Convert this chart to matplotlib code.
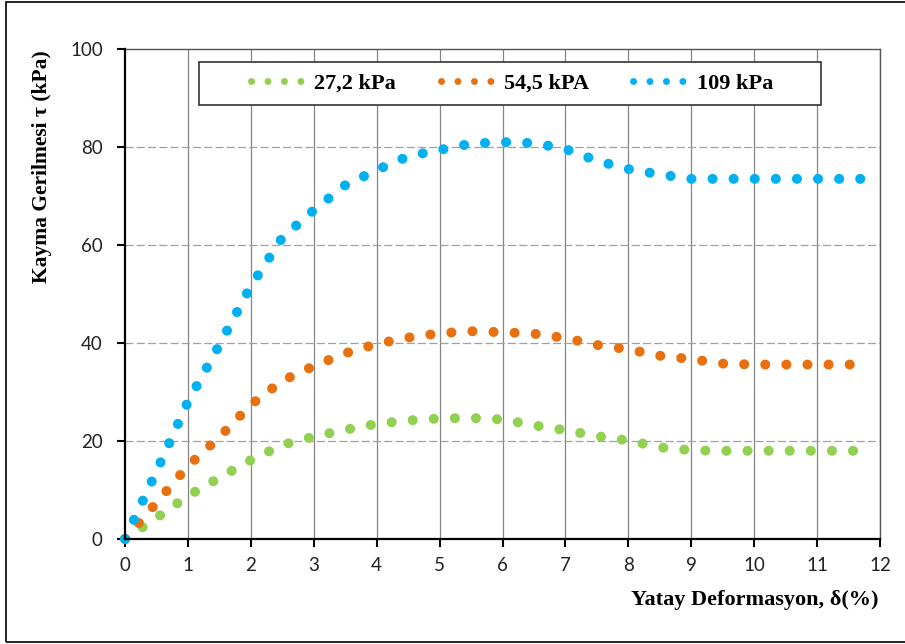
import matplotlib
matplotlib.use("Agg")
import matplotlib.pyplot as plt
from matplotlib.lines import Line2D
from matplotlib.patches import Rectangle

# ---- data ----
deformation = [0, 0.5, 1, 1.5, 2, 2.5, 3, 3.5, 4, 4.5, 5, 5.5, 6, 6.5, 7,
               7.5, 8, 8.5, 9, 9.5, 10, 10.5, 11, 11.5, 11.85]
tau_27 = [0, 4.3, 8.8, 12.5, 16.1, 19.2, 20.9, 22.3, 23.5, 24.2, 24.6, 24.7,
          24.4, 23.2, 22.2, 21.0, 20.1, 18.7, 18.1, 18.0, 18.0, 18.0, 18.0, 18.0, 18.0]
tau_54 = [0, 7.4, 14.9, 20.8, 27.4, 32.3, 35.3, 37.9, 39.8, 41.1, 42.0, 42.4,
          42.2, 41.9, 41.0, 39.6, 38.7, 37.4, 36.7, 35.8, 35.6, 35.6, 35.6, 35.6, 35.6]
tau_109 = [0, 13.8, 28.0, 39.6, 51.6, 61.5, 67.1, 72.2, 75.3, 78.1, 79.4, 80.7,
           81.0, 80.8, 79.6, 77.2, 75.5, 74.4, 73.5, 73.5, 73.5, 73.5, 73.5, 73.5, 73.5]
series_labels = ["27,2 kPa", "54,5 kPA", "109 kPa"]
series_colors = ["#92D050", "#E8700F", "#00B0F0"]
x_ticks = list(range(0, 13))
y_ticks = [0, 20, 40, 60, 80, 100]

serif_bold = dict(family="Liberation Serif", weight="bold")
tick_font = "Lato"

fig = plt.figure(figsize=(9.05, 6.44), dpi=100)
W, H = 905, 644
ax = fig.add_axes([125 / W, 105 / H, 755 / W, 490 / H])

# grid
for xv in x_ticks[1:]:
    ax.axvline(xv, color="#858585", lw=0.9, zorder=1)
for yv in y_ticks[1:-1]:
    ax.axhline(yv, color="#A0A0A0", lw=0.9, linestyle=(0, (6.5, 2.5)), zorder=1)

for yvals, lab, col in zip([tau_27, tau_54, tau_109], series_labels, series_colors):
    ax.plot(deformation, yvals, color=col, lw=7.2, linestyle=(0, (0.01, 2.1)),
            dash_capstyle="round", zorder=3, clip_on=False)

ax.set_xlim(0, 12)
ax.set_ylim(0, 100)
ax.set_xticks(x_ticks)
ax.set_yticks(y_ticks)
ax.tick_params(axis="both", direction="out", length=6, width=1.5, color="black",
               labelsize=13.5, labelcolor="#222222")
ax.tick_params(axis="y", pad=10)
ax.tick_params(axis="x", pad=7)
for t in ax.get_xticklabels() + ax.get_yticklabels():
    t.set_fontfamily(tick_font)

for s in ["left", "bottom"]:
    ax.spines[s].set_linewidth(1.6)
    ax.spines[s].set_color("black")
    ax.spines[s].set_zorder(4)
for s in ["top", "right"]:
    ax.spines[s].set_linewidth(1.0)
    ax.spines[s].set_color("#555555")

# axis labels
fig.text(42 / W, 1 - 167 / H, "Kayma Gerilmesi \u03c4 (kPa)", rotation=90,
         ha="center", va="center", fontsize=15.5, **serif_bold)
fig.text(878 / W, 1 - 600 / H, "Yatay Deformasyon, \u03b4(%)", ha="right",
         va="center", fontsize=16, **serif_bold)

# legend
box = Rectangle((199 / W, 1 - 105 / H), 622 / W, 43 / H,
                transform=fig.transFigure, fill=True, facecolor="white",
                edgecolor="#333333", lw=1.2, zorder=6, clip_on=False)
ax.add_patch(box)
handles = [Line2D([], [], color=c, lw=5.0, linestyle=(0, (0.01, 2.36)),
                  dash_capstyle="round") for c in series_colors]
leg = ax.legend(handles, series_labels, loc="center", ncol=3,
                bbox_to_anchor=(512 / W, 1 - 83.5 / H), bbox_transform=fig.transFigure,
                frameon=False, prop=dict(family="Liberation Serif", weight="bold", size=16),
                handlelength=2.35, handletextpad=0.5, columnspacing=2.0)
leg.set_zorder(7)

# outer frame
fig.add_artist(Rectangle((5.5 / W, 2.3 / H), 1.0, 1 - 4.0 / H,
                         transform=fig.transFigure, fill=False, edgecolor="black",
                         lw=1.2, clip_on=False))

fig.savefig("out.png", dpi=100)
